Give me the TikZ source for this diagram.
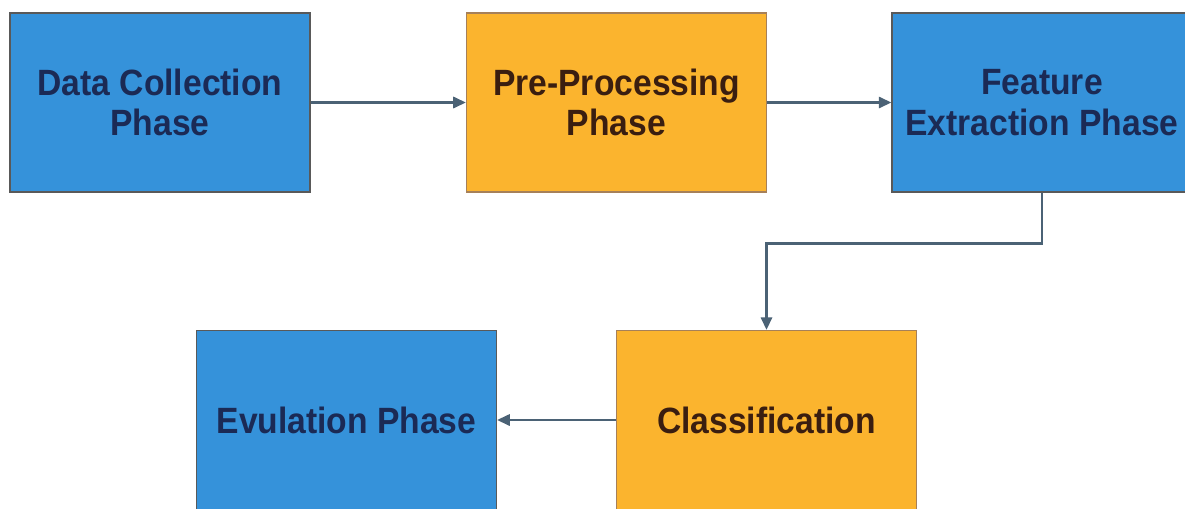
\documentclass[tikz,border=0pt]{standalone}
\usepackage{fontspec}
\setmainfont{Liberation Sans}[FakeStretch=0.92]
\usetikzlibrary{arrows.meta}
\definecolor{phaseblue}{HTML}{3592DA}
\definecolor{phaseorange}{HTML}{FBB42E}
\definecolor{bluetext}{HTML}{1B2A55}
\definecolor{orangetext}{HTML}{3A1E10}
\definecolor{linkgray}{HTML}{4B6275}
\begin{document}
\begin{tikzpicture}[x=0.025cm,y=-0.025cm,
    phase/.style={minimum width=7.5cm,minimum height=4.475cm,inner sep=2pt,align=center,
      line width=0.8pt,font=\fontsize{26}{29}\selectfont\bfseries},
    bluebox/.style={phase,draw=gray!70!black,fill=phaseblue,text=bluetext},
    orangebox/.style={phase,draw=brown!60!gray,fill=phaseorange,text=orangetext},
    link/.style={draw=linkgray,line width=1.7pt,-{Triangle[length=9pt,width=8pt]}}]
        \clip (0,0) rectangle (1185,508);
        \fill[white] (0,0) rectangle (1185,508);
        % boxes
        \node[bluebox] (collect) at (160,102.5) {Data Collection\\Phase};
        \node[orangebox] (prep) at (616.5,102.5) {Pre-Processing\\Phase};
        \node[bluebox] (feature) at (1042,102.5) {Feature\\Extraction Phase};
        \node[orangebox] (classif) at (766.5,420) {Classification};
        \node[bluebox] (eval) at (346.5,420) {Evulation Phase};
        % arrows
        \draw[link] (collect) -- (prep);
        \draw[link] (prep) -- (feature);
        \draw[link] (feature.south) -- ++(0,51) -| (classif.north);
        \draw[link] (classif) -- (eval);
\end{tikzpicture}
\end{document}
